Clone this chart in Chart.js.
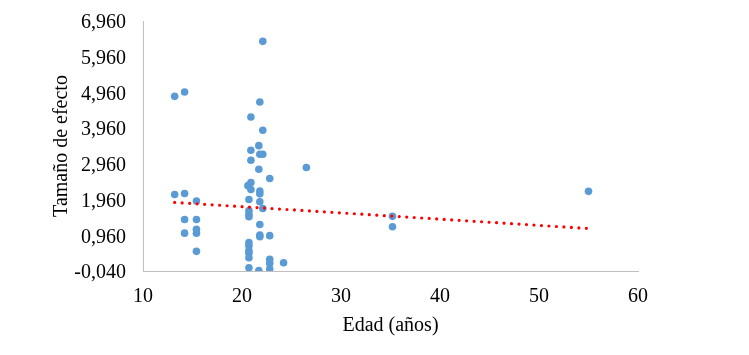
<!DOCTYPE html>
<html>
<head>
<meta charset="utf-8">
<script src="https://cdn.jsdelivr.net/npm/chart.js@4/dist/chart.umd.min.js"></script>
<style>
  html, body { margin: 0; padding: 0; background: #fff; }
  #wrap { width: 749px; height: 355px; }
</style>
</head>
<body>
<div id="wrap"><canvas id="chart"></canvas></div>
<script>
// edad (x) y tamaño de efecto (y)
const edad = [
  22.1, 13.2, 14.2, 21.8, 20.9, 22.1, 21.7, 20.9, 21.8, 22.1,
  20.9, 21.7, 26.5, 22.8, 13.2, 14.2, 20.9, 20.6, 20.9, 21.8,
  21.8, 15.4, 20.7, 21.8, 20.7, 20.7, 20.7, 22.1, 14.2, 15.4,
  21.8, 14.2, 15.4, 15.4, 21.8, 21.8, 22.8, 20.7, 20.7, 20.7,
  20.7, 20.7, 15.4, 22.8, 22.8, 22.8, 24.2, 20.7, 21.7, 35.2,
  35.2, 55.0
];
const tamano = [
  6.39, 4.85, 4.97, 4.69, 4.27, 3.90, 3.47, 3.34, 3.23, 3.23,
  3.06, 2.81, 2.86, 2.55, 2.10, 2.13, 2.44, 2.35, 2.24, 2.20,
  2.12, 1.92, 1.96, 1.90, 1.65, 1.55, 1.48, 1.71, 1.40, 1.40,
  1.26, 1.02, 1.13, 1.02, 0.97, 0.92, 0.95, 0.76, 0.67, 0.53,
  0.46, 0.33, 0.51, 0.29, 0.18, 0.02, 0.19, 0.05, -0.03, 1.49,
  1.20, 2.19
];
// línea de tendencia (extremos)
const trendX = [13.2, 55.0];
const trendY = [1.88, 1.15];

const yTicks = [-0.04, 0.96, 1.96, 2.96, 3.96, 4.96, 5.96, 6.96];
const xTicks = [10, 20, 30, 40, 50, 60];

const font = {family: "'Liberation Serif', 'Times New Roman', serif", size: 20};
const axisColor = "#bfbfbf";

const ctx = document.getElementById("chart").getContext("2d");
new Chart(ctx, {
  type: "scatter",
  data: {
    datasets: [
      {
        label: "Tamaño de efecto",
        data: edad.map((x, i) => ({x, y: tamano[i]})),
        backgroundColor: "#5b9bd5",
        borderWidth: 0,
        pointRadius: 3.8,
        order: 2
      },
      {
        label: "Tendencia",
        type: "line",
        data: trendX.map((x, i) => ({x, y: trendY[i]})),
        borderColor: "#ff0000",
        borderWidth: 3.2,
        borderDash: [0, 7.5],
        borderCapStyle: "round",
        pointRadius: 0,
        fill: false,
        order: 1
      }
    ]
  },
  options: {
    responsive: true,
    maintainAspectRatio: false,
    animation: false,
    layout: {padding: {top: 21, right: 111, bottom: 0, left: 0}},
    plugins: {legend: {display: false}, tooltip: {enabled: false}},
    scales: {
      x: {
        type: "linear",
        min: 10,
        max: 60,
        afterBuildTicks: s => { s.ticks = xTicks.map(v => ({value: v})); },
        afterFit: s => { s.height = 84; s.paddingLeft = 0; s.paddingRight = 0; },
        grid: {display: false, drawTicks: false},
        border: {display: true, color: axisColor, width: 1},
        ticks: {font, color: "#000", padding: 14, maxRotation: 0},
        title: {display: true, text: "Edad (años)", font, color: "#000", padding: {top: 0, bottom: 17}}
      },
      y: {
        min: -0.04,
        max: 6.96,
        afterBuildTicks: s => { s.ticks = yTicks.map(v => ({value: v})); },
        afterFit: s => { s.width = 143; s.paddingTop = 0; s.paddingBottom = 0; },
        grid: {display: false, drawTicks: false},
        border: {display: true, color: axisColor, width: 1},
        ticks: {
          font, color: "#000", padding: 17, labelOffset: 2,
          callback: v => v.toFixed(3).replace(".", ",")
        },
        title: {display: true, text: "Tamaño de efecto", font, color: "#000", padding: {top: 50, bottom: 0}}
      }
    }
  }
});
</script>
</body>
</html>
